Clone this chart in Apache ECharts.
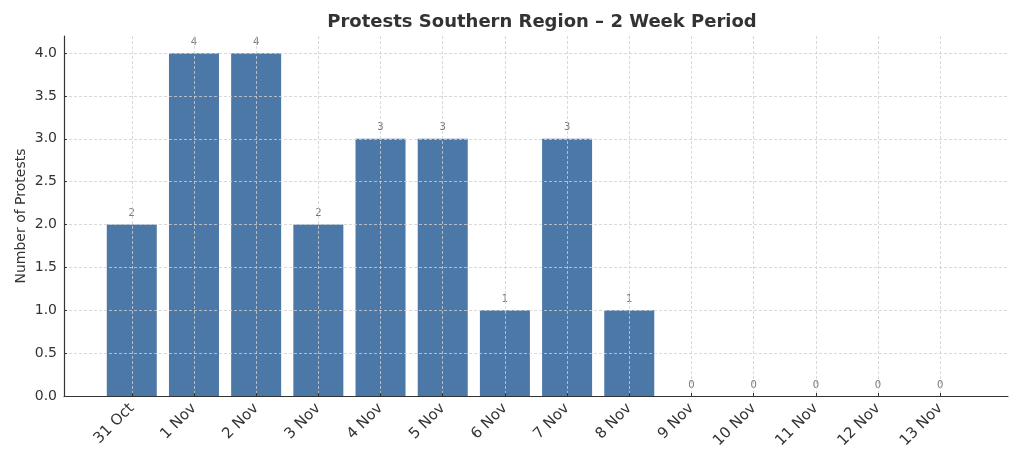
<!DOCTYPE html>
<html>
<head>
<meta charset="utf-8">
<script src="https://cdn.jsdelivr.net/npm/echarts@6/dist/echarts.min.js"></script>
<style>html,body{margin:0;padding:0;background:#fff}#c{width:1024px;height:465px}</style>
</head>
<body>
<div id="c"></div>
<script>
const categories = ['31 Oct','1 Nov','2 Nov','3 Nov','4 Nov','5 Nov','6 Nov','7 Nov','8 Nov','9 Nov','10 Nov','11 Nov','12 Nov','13 Nov'];
const protests = [2,4,4,2,3,3,1,3,1,0,0,0,0,0];
const yTicks = [0,0.5,1,1.5,2,2.5,3,3.5,4];

const xIdx = categories.map((c,i)=>i);
const font = 'DejaVu Sans';
const chart = echarts.init(document.getElementById('c'), null, {renderer:'canvas'});
chart.setOption({
  animation:false,
  title:{text:'Protests Southern Region – 2 Week Period', left:537, textAlign:'center', top:8,
    textStyle:{fontFamily:font,fontSize:18,fontWeight:'bold',color:'#333'}},
  grid:{left:64,right:16,top:36,bottom:69,containLabel:false},
  xAxis:{type:'value', min:-1.09, max:categories.length-1+1.09, z:5,
    axisLine:{show:true,onZero:false,lineStyle:{color:'#333',width:1.2}},
    axisTick:{show:true,inside:true,length:3,customValues:xIdx,lineStyle:{color:'#333'}},
    axisLabel:{customValues:xIdx,rotate:45,fontFamily:font,fontSize:15,color:'#333',margin:10,
      formatter:v=>categories[Math.round(v)]},
    splitLine:{show:true,lineStyle:{color:'#cfcfcf',type:[3,2],width:0.8}}},
  yAxis:{type:'value',min:0,max:4.2,z:5,
    name:'Number of Protests',nameLocation:'middle',nameGap:36,nameMoveOverlap:false,
    nameTextStyle:{fontFamily:font,fontSize:14,color:'#333'},
    axisLine:{show:true,onZero:false,lineStyle:{color:'#333',width:1.2}},
    axisTick:{show:true,inside:true,length:3,customValues:yTicks,lineStyle:{color:'#333'}},
    axisLabel:{customValues:yTicks,fontFamily:font,fontSize:14,color:'#333',margin:7,formatter:v=>v.toFixed(1)},
    splitLine:{show:true,lineStyle:{color:'#cfcfcf',type:[3,2],width:0.8}}},
  series:[{type:'bar',z:1,barWidth:50,
    data:protests.map((v,i)=>[i,v]),
    itemStyle:{color:'#4c78a8'},
    label:{show:true,position:'top',distance:6,fontFamily:font,fontSize:10,color:'#777',
      formatter:p=>String(p.value[1])}}]
});
</script>
</body>
</html>
